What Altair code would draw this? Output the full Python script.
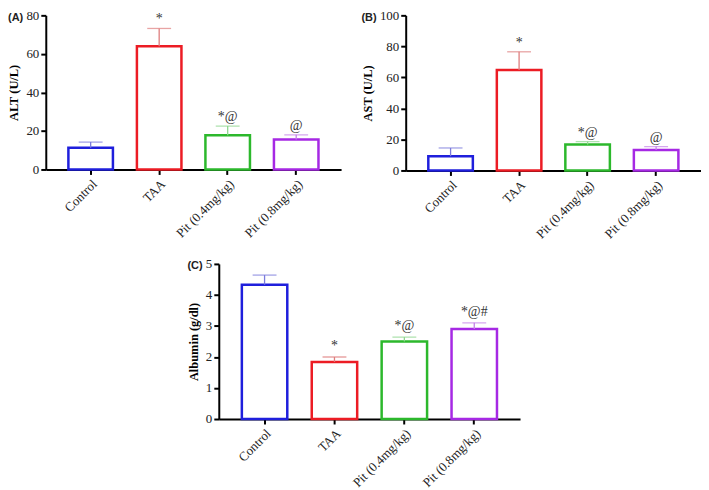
import altair as alt
import pandas as pd

groups = ["Control", "TAA", "Pit (0.4mg/kg)", "Pit (0.8mg/kg)"]
bar_colors = ["#1f1fdc", "#ec1c24", "#2cb82c", "#a629e4"]
err_colors = ["#7b7bdc", "#de7e7e", "#8fd68f", "#c481e8"]

alt_mean = [11.3, 63.9, 17.8, 15.6]
alt_upper = [14.2, 73.2, 22.5, 18.0]
alt_marks = ["", "*", "*@", "@"]

ast_mean = [9.2, 64.7, 16.7, 13.2]
ast_upper = [14.5, 76.5, 18.6, 15.4]
ast_marks = ["", "*", "*@", "@"]

alb_mean = [4.33, 1.84, 2.50, 2.90]
alb_upper = [4.64, 2.00, 2.64, 3.10]
alb_marks = ["", "*", "*@", "*@#"]

SERIF = "Liberation Serif"


def panel(mean, upper, marks, ymax, step, ytitle, tag, width, height, text_dy):
    df = pd.DataFrame({"group": groups, "mean": mean, "upper": upper, "mark": marks})
    x = alt.X(
        "group:N",
        sort=groups,
        scale=alt.Scale(paddingInner=0.35, paddingOuter=0.33),
        axis=alt.Axis(title=None, labelAngle=-45, labelFontSize=13, labelPadding=3),
    )
    yscale = alt.Scale(domain=[0, ymax], nice=False)
    yaxis = alt.Axis(
        title=ytitle,
        values=list(range(0, ymax + 1, step)),
        tickCount=ymax // step + 1,
        format="d",
        titlePadding=5,
        labelOverlap=False,
    )

    def yenc(field):
        return alt.Y(field, type="quantitative", scale=yscale, axis=yaxis)

    base = alt.Chart(df)
    bars = base.mark_bar(fill="white", strokeWidth=2.5).encode(
        x=x,
        y=yenc("mean"),
        stroke=alt.Stroke("group:N", scale=alt.Scale(domain=groups, range=bar_colors), legend=None),
    )
    ecol = alt.Color("group:N", scale=alt.Scale(domain=groups, range=err_colors), legend=None)
    err = base.mark_rule(strokeWidth=1.3).encode(x=x, y=yenc("mean"), y2="upper:Q", color=ecol)
    cap = base.mark_tick(size=24, thickness=1.3).encode(x=x, y=yenc("upper"), color=ecol)
    txt = base.mark_text(font=SERIF, fontSize=14, baseline="bottom", dy=text_dy, color="#333333").encode(
        x=x, y=yenc("upper"), text="mark:N"
    )
    return alt.layer(bars, err, cap, txt).properties(
        width=width,
        height=height,
        title=alt.TitleParams(
            tag,
            anchor="start",
            frame="bounds",
            font="Liberation Sans",
            fontSize=11,
            fontWeight="bold",
            color="#222222",
            offset=-14,
        ),
    )


pa = panel(alt_mean, alt_upper, alt_marks, 80, 20, "ALT (U/L)", "(A)", 297, 155, -2)
pb = panel(ast_mean, ast_upper, ast_marks, 100, 20, "AST (U/L)", "(B)", 297, 156, -2)
pc = panel(alb_mean, alb_upper, alb_marks, 5, 1, "Albumin (g/dl)", "(C)", 303, 156, -4)

spacer = (
    alt.Chart(pd.DataFrame({"v": [0]}))
    .mark_point(opacity=0)
    .encode(x=alt.value(0), y=alt.value(0))
    .properties(width=142, height=10)
)

chart = (
    alt.vconcat(
        alt.hconcat(pa, pb, spacing=20),
        alt.hconcat(spacer, pc, spacing=0),
        spacing=16,
    )
    .properties(padding=0)
    .configure_view(stroke=None)
    .configure_axis(
        domainColor="black",
        domainWidth=2,
        tickColor="black",
        tickWidth=2,
        tickSize=5,
        labelFont=SERIF,
        labelFontSize=13,
        labelColor="#222222",
        titleFont=SERIF,
        titleFontSize=12.5,
        titleFontWeight="bold",
        titleColor="black",
        grid=False,
        zindex=1,
    )
)

chart.save("out.html", embed_options={"renderer": "svg", "actions": False})
